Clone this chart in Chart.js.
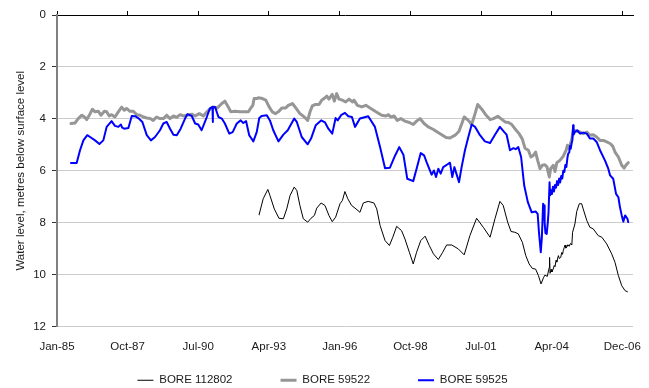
<!DOCTYPE html>
<html><head><meta charset="utf-8">
<script src="https://cdn.jsdelivr.net/npm/chart.js@4.4.0/dist/chart.umd.min.js"></script>
<style>html,body{margin:0;padding:0;background:#fff;}#wrap{width:649px;height:388px;}</style>
</head><body><div id="wrap"><canvas id="c" width="649" height="388"></canvas></div>
<script>
// x axis: decimal years
const tickLabels = ['Jan-85','Oct-87','Jul-90','Apr-93','Jan-96','Oct-98','Jul-01','Apr-04','Dec-06'];
const tickYears = [1985.05,1987.78,1990.51,1993.24,1995.98,1998.71,2001.44,2004.17,2006.90];
const xMin = 1985.05, xMax = 2007.315;
const yTicks = [0,2,4,6,8,10,12];

const bore112802Years = [1992.86,1993.02,1993.20,1993.28,1993.45,1993.63,1993.80,1993.93,1994.06,1994.22,
1994.32,1994.44,1994.57,1994.74,1994.87,1995.00,1995.09,1995.26,1995.41,1995.56,
1995.69,1995.82,1995.99,1996.08,1996.18,1996.29,1996.44,1996.57,1996.76,1996.89,
1997.08,1997.30,1997.41,1997.54,1997.73,1997.90,1998.03,1998.18,1998.37,1998.50,
1998.67,1998.82,1998.95,1999.11,1999.28,1999.44,1999.60,1999.79,1999.96,2000.11,
2000.31,2000.56,2000.79,2001.01,2001.27,2001.53,2001.79,2001.98,2002.17,2002.30,
2002.47,2002.60,2002.75,2002.88,2003.04,2003.17,2003.30,2003.42,2003.55,2003.66,
2003.76,2003.86,2003.91,2004.00,2004.08,2004.09,2004.11,2004.15,2004.18,2004.23,
2004.27,2004.30,2004.34,2004.37,2004.43,2004.47,2004.52,2004.56,2004.59,2004.62,
2004.66,2004.69,2004.72,2004.75,2004.80,2004.85,2004.90,2004.95,2004.98,2005.07,
2005.14,2005.24,2005.33,2005.39,2005.53,2005.65,2005.78,2005.97,2006.11,2006.30,
2006.49,2006.62,2006.75,2006.88,2007.01,2007.10];
const bore112802Levels = [7.70,7.08,6.72,6.95,7.47,7.83,7.85,7.47,6.95,6.63,
6.76,7.34,7.85,7.98,7.83,7.72,7.44,7.24,7.34,7.72,
7.96,7.79,7.27,7.15,6.80,7.08,7.34,7.44,7.60,7.24,
7.18,7.24,7.47,8.11,8.69,8.88,8.56,8.14,8.31,8.63,
9.14,9.59,9.14,8.69,8.52,8.88,9.20,9.42,9.14,8.86,
8.86,9.01,9.24,8.50,7.83,8.18,8.56,7.85,7.18,7.34,
7.98,8.34,8.37,8.43,8.76,9.27,9.59,9.76,9.79,10.04,
10.36,10.11,10.02,10.07,9.72,9.34,9.95,9.80,9.90,9.79,
9.65,9.70,9.45,9.52,9.27,9.38,9.34,9.15,9.22,9.08,
8.95,8.86,8.98,8.95,8.85,8.91,8.80,8.86,8.37,8.05,
7.57,7.27,7.27,7.47,7.92,8.18,8.24,8.50,8.56,8.82,
9.20,9.53,10.04,10.43,10.62,10.66];

const bore59522Years = [1985.59,1985.75,1985.87,1986.01,1986.11,1986.20,1986.33,1986.42,1986.52,1986.65,
1986.75,1986.88,1986.97,1987.07,1987.16,1987.29,1987.42,1987.55,1987.65,1987.74,
1987.87,1988.00,1988.13,1988.26,1988.39,1988.52,1988.65,1988.77,1988.90,1989.03,
1989.16,1989.29,1989.42,1989.55,1989.68,1989.81,1989.93,1990.06,1990.26,1990.39,
1990.55,1990.71,1990.84,1990.96,1991.09,1991.25,1991.42,1991.54,1991.67,1991.77,
1991.93,1992.12,1992.32,1992.45,1992.53,1992.62,1992.67,1992.77,1992.83,1992.99,
1993.12,1993.25,1993.37,1993.50,1993.63,1993.74,1993.89,1993.99,1994.15,1994.28,
1994.44,1994.61,1994.74,1994.83,1994.92,1995.02,1995.18,1995.28,1995.41,1995.48,
1995.56,1995.69,1995.77,1995.86,1995.95,1996.08,1996.21,1996.34,1996.47,1996.53,
1996.66,1996.83,1996.99,1997.18,1997.38,1997.60,1997.77,1997.86,1997.95,1998.08,
1998.20,1998.34,1998.50,1998.67,1998.82,1998.95,1999.08,1999.24,1999.40,1999.60,
1999.75,1999.92,2000.09,2000.24,2000.44,2000.59,2000.79,2000.95,2001.08,2001.21,
2001.31,2001.47,2001.62,2001.79,2001.92,2002.09,2002.21,2002.37,2002.50,2002.63,
2002.75,2002.91,2003.04,2003.14,2003.27,2003.37,2003.46,2003.55,2003.63,2003.72,
2003.81,2003.91,2003.99,2004.08,2004.13,2004.23,2004.30,2004.37,2004.49,2004.62,
2004.73,2004.78,2004.85,2004.95,2005.01,2005.14,2005.27,2005.39,2005.53,2005.65,
2005.78,2005.91,2006.04,2006.17,2006.30,2006.43,2006.53,2006.62,2006.75,2006.88,
2006.97,2007.04,2007.13];
const bore59522Levels = [4.18,4.16,3.99,3.86,3.93,4.03,3.80,3.63,3.73,3.71,
3.86,3.71,3.73,3.89,3.84,3.93,3.73,3.55,3.67,3.60,
3.71,3.71,3.84,3.86,3.93,3.97,3.99,4.06,3.93,3.99,
3.99,3.86,3.99,3.89,3.94,3.84,3.89,3.86,3.82,3.89,
3.80,3.89,3.73,3.63,3.54,3.58,3.41,3.32,3.54,3.73,
3.71,3.73,3.73,3.73,3.60,3.48,3.22,3.22,3.19,3.22,
3.28,3.54,3.73,3.80,3.71,3.58,3.58,3.48,3.41,3.58,
3.80,3.93,4.06,3.73,3.50,3.45,3.45,3.28,3.19,3.12,
3.24,3.06,3.32,3.03,3.24,3.28,3.35,3.24,3.35,3.28,
3.48,3.54,3.48,3.60,3.73,3.86,3.89,3.84,3.93,3.89,
4.06,3.99,4.09,4.14,4.22,4.09,3.99,4.18,4.31,4.41,
4.51,4.61,4.72,4.74,4.63,4.48,3.93,4.06,4.22,3.80,
3.45,3.63,3.84,4.03,3.99,3.90,3.99,4.12,4.14,4.22,
4.38,4.57,4.79,5.13,5.21,5.47,5.41,5.28,5.60,5.92,
5.79,5.77,5.85,6.24,5.92,5.79,6.03,5.69,5.60,5.44,
5.21,5.02,5.15,4.76,4.44,4.48,4.51,4.57,4.51,4.63,
4.61,4.70,4.83,4.83,4.89,4.95,5.05,5.28,5.47,5.79,
5.90,5.79,5.69];

const bore59525Years = [1985.59,1985.81,1985.94,1986.07,1986.22,1986.33,1986.52,1986.69,1986.84,1986.97,
1987.16,1987.29,1987.42,1987.52,1987.57,1987.65,1987.81,1987.94,1988.07,1988.19,
1988.35,1988.52,1988.68,1988.84,1989.03,1989.16,1989.29,1989.42,1989.55,1989.68,
1989.83,1990.00,1990.09,1990.26,1990.39,1990.51,1990.64,1990.84,1990.96,1991.06,
1991.07,1991.08,1991.16,1991.29,1991.42,1991.54,1991.71,1991.84,1992.00,1992.15,
1992.25,1992.36,1992.48,1992.64,1992.77,1992.87,1992.96,1993.16,1993.28,1993.41,
1993.61,1993.80,1993.97,1994.22,1994.32,1994.51,1994.74,1994.87,1995.05,1995.26,
1995.41,1995.54,1995.69,1995.82,1995.90,1996.03,1996.18,1996.31,1996.45,1996.57,
1996.76,1997.08,1997.34,1997.54,1997.73,1997.92,1998.12,1998.28,1998.44,1998.59,
1998.82,1998.95,1999.11,1999.24,1999.36,1999.53,1999.62,1999.70,1999.79,1999.88,
1999.98,2000.15,2000.24,2000.33,2000.41,2000.50,2000.59,2000.69,2000.82,2000.95,
2001.08,2001.21,2001.40,2001.59,2001.79,2001.98,2002.17,2002.34,2002.43,2002.56,
2002.69,2002.78,2002.88,2002.99,2003.11,2003.25,2003.40,2003.55,2003.63,2003.68,
2003.75,2003.79,2003.81,2003.84,2003.88,2003.90,2003.93,2003.98,2004.02,2004.05,
2004.09,2004.11,2004.15,2004.18,2004.22,2004.26,2004.30,2004.34,2004.38,2004.42,
2004.46,2004.50,2004.54,2004.58,2004.62,2004.66,2004.70,2004.74,2004.78,2004.81,
2004.85,2004.88,2004.91,2004.94,2004.97,2005.00,2005.02,2005.07,2005.16,2005.27,
2005.39,2005.53,2005.65,2005.78,2005.91,2006.04,2006.23,2006.36,2006.43,2006.55,
2006.66,2006.75,2006.81,2006.88,2006.94,2007.01,2007.10,2007.13];
const bore59525Levels = [5.70,5.70,5.21,4.83,4.63,4.70,4.83,4.97,4.83,4.31,
4.09,4.27,4.31,4.22,4.34,4.38,4.35,3.89,3.90,3.97,
4.12,4.63,4.83,4.70,4.44,4.18,4.12,4.38,4.61,4.63,
4.38,3.99,3.82,3.89,4.18,4.22,4.44,3.93,3.60,3.54,
4.12,3.56,3.54,3.93,3.99,4.18,4.57,4.51,4.18,4.06,
4.16,4.09,4.63,4.87,4.51,3.97,3.89,3.86,4.06,4.44,
4.87,4.61,4.44,3.99,4.12,4.70,4.98,4.76,4.25,4.06,
4.14,4.38,4.57,3.97,4.06,3.86,3.77,3.90,3.93,4.31,
3.99,3.90,4.31,5.09,5.90,5.88,5.41,5.09,5.38,6.31,
6.40,5.92,5.32,5.41,5.73,6.15,5.99,6.24,5.92,6.11,
5.86,5.75,5.69,6.24,5.86,6.15,6.44,5.86,5.21,4.70,
4.22,4.31,4.63,4.87,4.93,4.61,4.31,4.51,4.61,5.21,
5.13,5.17,5.09,5.47,6.57,7.21,7.60,7.57,7.66,8.37,
9.14,8.60,8.11,7.27,7.34,8.00,8.40,8.43,8.00,7.60,
6.44,6.95,6.75,6.90,6.62,6.80,6.55,6.65,6.40,6.55,
6.30,6.45,6.20,6.30,6.00,6.05,5.78,5.85,5.50,5.34,
5.30,5.05,5.15,4.95,4.83,4.25,4.60,4.51,4.44,4.57,
4.53,4.57,4.76,4.76,4.89,5.21,5.60,5.92,6.18,6.31,
6.89,7.02,7.40,7.72,7.96,7.72,7.85,7.98];

const toPoints = (xs, ys) => xs.map((x, i) => ({x: x, y: ys[i]}));
const FONT = {family: '"Liberation Sans", Arial, sans-serif', size: 11.5};
const TEXT = '#1a1a1a';
const setTicks = s => { s.ticks = tickYears.map(v => ({value: v})); };

new Chart(document.getElementById('c'), {
  type: 'line',
  data: {
    datasets: [
      {label: 'BORE 112802', data: toPoints(bore112802Years, bore112802Levels), borderColor: '#000000', backgroundColor: '#000000', borderWidth: 1, order: 2},
      {label: 'BORE 59522', data: toPoints(bore59522Years, bore59522Levels), borderColor: '#969696', backgroundColor: '#969696', borderWidth: 3, order: 1},
      {label: 'BORE 59525', data: toPoints(bore59525Years, bore59525Levels), borderColor: '#0000ff', backgroundColor: '#0000ff', borderWidth: 2, order: 0}
    ]
  },
  options: {
    responsive: false,
    animation: false,
    devicePixelRatio: 1,
    layout: {padding: {left: 12, right: 16, top: 0, bottom: -8}},
    elements: {point: {radius: 0, hoverRadius: 0}, line: {tension: 0, borderJoinStyle: 'round', borderCapStyle: 'round'}},
    plugins: {
      tooltip: {enabled: false},
      legend: {
        position: 'bottom',
        labels: {
          font: FONT, color: TEXT, usePointStyle: true, pointStyle: 'line', pointStyleWidth: 16,
          boxWidth: 16, padding: 48,
          sort: (a, b) => a.datasetIndex - b.datasetIndex
        }
      }
    },
    scales: {
      x: {
        type: 'linear', position: 'bottom', min: xMin, max: xMax,
        afterBuildTicks: setTicks,
        afterFit: s => { s.height = 0; },
        ticks: {autoSkip: false, maxRotation: 0, minRotation: 0, mirror: true, padding: -27, font: FONT, color: TEXT,
          callback: (v, i) => tickLabels[i]},
        grid: {display: false, drawTicks: false},
        border: {display: false}
      },
      xTop: {
        type: 'linear', position: 'top', min: xMin, max: xMax,
        afterBuildTicks: setTicks,
        afterFit: s => { s.height = 15; },
        ticks: {display: false},
        grid: {drawOnChartArea: false, drawTicks: true, tickLength: 4, color: '#000000', lineWidth: 1},
        border: {display: true, color: '#000000', width: 1}
      },
      y: {
        type: 'linear', position: 'left', reverse: true, min: 0, max: 12,
        afterBuildTicks: s => { s.ticks = yTicks.map(v => ({value: v})); },
        afterFit: s => { s.width = 45; },
        ticks: {font: FONT, color: TEXT, padding: 6},
        grid: {color: c => (c.tick && c.tick.value === 0) ? 'rgba(0,0,0,0)' : '#cccccc', tickColor: '#333333', tickLength: 5, lineWidth: 1},
        border: {display: true, color: '#808080', width: 2},
        title: {display: true, text: 'Water level, metres below surface level', font: FONT, color: TEXT, padding: {top: 1.5, bottom: 0}}
      }
    }
  }
});
</script>
</body></html>
